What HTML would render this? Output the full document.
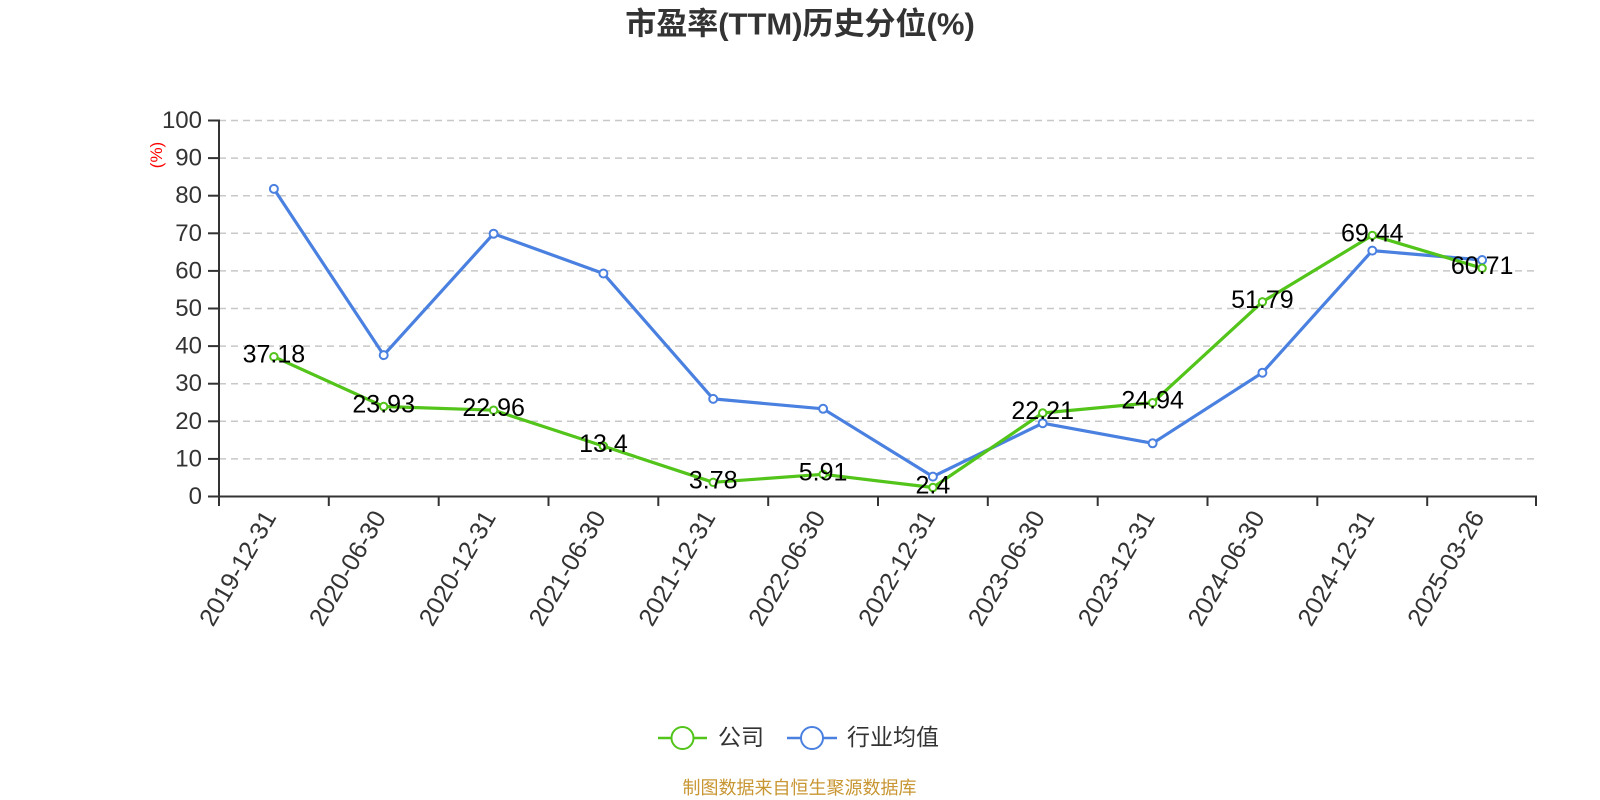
<!DOCTYPE html>
<html>
<head>
<meta charset="utf-8">
<style>
html,body{margin:0;padding:0;background:#fff;}
svg{display:block;}
text{font-family:"Liberation Sans","Noto Sans CJK SC",sans-serif;}
</style>
</head>
<body>
<svg width="1600" height="800" viewBox="0 0 1600 800" xmlns="http://www.w3.org/2000/svg">
<rect width="1600" height="800" fill="#fff"/>
<!-- title -->
<text x="800" y="24" text-anchor="middle" dominant-baseline="central" font-size="31" font-weight="bold" fill="#333">市盈率(TTM)历史分位(%)</text>

<!-- grid lines -->
<g stroke="#c8c8c8" stroke-width="1.5" stroke-dasharray="7,5" fill="none">
<line x1="219" y1="458.9" x2="1537" y2="458.9"/>
<line x1="219" y1="421.3" x2="1537" y2="421.3"/>
<line x1="219" y1="383.7" x2="1537" y2="383.7"/>
<line x1="219" y1="346.1" x2="1537" y2="346.1"/>
<line x1="219" y1="308.5" x2="1537" y2="308.5"/>
<line x1="219" y1="270.9" x2="1537" y2="270.9"/>
<line x1="219" y1="233.3" x2="1537" y2="233.3"/>
<line x1="219" y1="195.7" x2="1537" y2="195.7"/>
<line x1="219" y1="158.1" x2="1537" y2="158.1"/>
<line x1="219" y1="120.5" x2="1537" y2="120.5"/>
</g>

<!-- axes -->
<g stroke="#333" stroke-width="2" fill="none">
<line x1="219" y1="119.5" x2="219" y2="497.5"/>
<line x1="218" y1="496.5" x2="1537" y2="496.5"/>
<line x1="208" y1="496.5" x2="219" y2="496.5"/>
<line x1="208" y1="458.9" x2="219" y2="458.9"/>
<line x1="208" y1="421.3" x2="219" y2="421.3"/>
<line x1="208" y1="383.7" x2="219" y2="383.7"/>
<line x1="208" y1="346.1" x2="219" y2="346.1"/>
<line x1="208" y1="308.5" x2="219" y2="308.5"/>
<line x1="208" y1="270.9" x2="219" y2="270.9"/>
<line x1="208" y1="233.3" x2="219" y2="233.3"/>
<line x1="208" y1="195.7" x2="219" y2="195.7"/>
<line x1="208" y1="158.1" x2="219" y2="158.1"/>
<line x1="208" y1="120.5" x2="219" y2="120.5"/>
<line x1="219" y1="496.5" x2="219" y2="506"/>
<line x1="328.8" y1="496.5" x2="328.8" y2="506"/>
<line x1="438.7" y1="496.5" x2="438.7" y2="506"/>
<line x1="548.5" y1="496.5" x2="548.5" y2="506"/>
<line x1="658.3" y1="496.5" x2="658.3" y2="506"/>
<line x1="768.2" y1="496.5" x2="768.2" y2="506"/>
<line x1="878" y1="496.5" x2="878" y2="506"/>
<line x1="987.8" y1="496.5" x2="987.8" y2="506"/>
<line x1="1097.7" y1="496.5" x2="1097.7" y2="506"/>
<line x1="1207.5" y1="496.5" x2="1207.5" y2="506"/>
<line x1="1317.3" y1="496.5" x2="1317.3" y2="506"/>
<line x1="1427.2" y1="496.5" x2="1427.2" y2="506"/>
<line x1="1536" y1="496.5" x2="1536" y2="506"/>
</g>

<!-- y labels -->
<g font-size="24" fill="#333" text-anchor="end" dominant-baseline="central">
<text x="202" y="496.5">0</text>
<text x="202" y="458.9">10</text>
<text x="202" y="421.3">20</text>
<text x="202" y="383.7">30</text>
<text x="202" y="346.1">40</text>
<text x="202" y="308.5">50</text>
<text x="202" y="270.9">60</text>
<text x="202" y="233.3">70</text>
<text x="202" y="195.7">80</text>
<text x="202" y="158.1">90</text>
<text x="202" y="120.5">100</text>
</g>
<text transform="translate(156.5,155) rotate(-90)" text-anchor="middle" dominant-baseline="central" font-size="17" fill="#f00">(%)</text>

<!-- x labels -->
<g font-size="25" fill="#333" text-anchor="end" dominant-baseline="central">
<text transform="translate(270,513) rotate(-60)">2019-12-31</text>
<text transform="translate(379.8,513) rotate(-60)">2020-06-30</text>
<text transform="translate(489.7,513) rotate(-60)">2020-12-31</text>
<text transform="translate(599.5,513) rotate(-60)">2021-06-30</text>
<text transform="translate(709.3,513) rotate(-60)">2021-12-31</text>
<text transform="translate(819.2,513) rotate(-60)">2022-06-30</text>
<text transform="translate(929,513) rotate(-60)">2022-12-31</text>
<text transform="translate(1038.8,513) rotate(-60)">2023-06-30</text>
<text transform="translate(1148.7,513) rotate(-60)">2023-12-31</text>
<text transform="translate(1258.5,513) rotate(-60)">2024-06-30</text>
<text transform="translate(1368.4,513) rotate(-60)">2024-12-31</text>
<text transform="translate(1478.2,513) rotate(-60)">2025-03-26</text>
</g>

<!-- blue series -->
<polyline fill="none" stroke="#4a80e0" stroke-width="3.2" stroke-linejoin="round"
points="273.9,188.9 383.7,355.1 493.6,233.7 603.4,273.5 713.2,398.9 823.1,408.8 932.9,476.6 1042.7,423.2 1152.6,443.3 1262.4,372.7 1372.3,250.6 1482.1,260.0"/>
<!-- green series -->
<polyline fill="none" stroke="#52c41a" stroke-width="3.2" stroke-linejoin="round"
points="273.9,356.7 383.7,406.5 493.6,410.2 603.4,446.1 713.2,482.3 823.1,474.3 932.9,487.5 1042.7,413.0 1152.6,402.7 1262.4,301.8 1372.3,235.4 1482.1,268.2"/>

<!-- blue markers -->
<g fill="#fff" stroke="#4a80e0" stroke-width="2">
<circle cx="273.9" cy="188.9" r="4"/>
<circle cx="383.7" cy="355.1" r="4"/>
<circle cx="493.6" cy="233.7" r="4"/>
<circle cx="603.4" cy="273.5" r="4"/>
<circle cx="713.2" cy="398.9" r="4"/>
<circle cx="823.1" cy="408.8" r="4"/>
<circle cx="932.9" cy="476.6" r="4"/>
<circle cx="1042.7" cy="423.2" r="4"/>
<circle cx="1152.6" cy="443.3" r="4"/>
<circle cx="1262.4" cy="372.7" r="4"/>
<circle cx="1372.3" cy="250.6" r="4"/>
<circle cx="1482.1" cy="260.0" r="4"/>
</g>
<!-- green markers -->
<g fill="#fff" stroke="#52c41a" stroke-width="2">
<circle cx="273.9" cy="356.7" r="3.7"/>
<circle cx="383.7" cy="406.5" r="3.7"/>
<circle cx="493.6" cy="410.2" r="3.7"/>
<circle cx="603.4" cy="446.1" r="3.7"/>
<circle cx="713.2" cy="482.3" r="3.7"/>
<circle cx="823.1" cy="474.3" r="3.7"/>
<circle cx="932.9" cy="487.5" r="3.7"/>
<circle cx="1042.7" cy="413.0" r="3.7"/>
<circle cx="1152.6" cy="402.7" r="3.7"/>
<circle cx="1262.4" cy="301.8" r="3.7"/>
<circle cx="1372.3" cy="235.4" r="3.7"/>
<circle cx="1482.1" cy="268.2" r="3.7"/>
</g>

<!-- data labels -->
<g font-size="25" fill="#000" text-anchor="middle" dominant-baseline="central">
<text x="273.9" y="354.7">37.18</text>
<text x="383.7" y="404.5">23.93</text>
<text x="493.6" y="408.2">22.96</text>
<text x="603.4" y="444.1">13.4</text>
<text x="713.2" y="480.3">3.78</text>
<text x="823.1" y="472.3">5.91</text>
<text x="932.9" y="485.5">2.4</text>
<text x="1042.7" y="411.0">22.21</text>
<text x="1152.6" y="400.7">24.94</text>
<text x="1262.4" y="299.8">51.79</text>
<text x="1372.3" y="233.4">69.44</text>
<text x="1482.1" y="266.2">60.71</text>
</g>

<!-- legend -->
<line x1="658" y1="738" x2="707" y2="738" stroke="#52c41a" stroke-width="2.5"/>
<circle cx="682.5" cy="738" r="11" fill="#fff" stroke="#52c41a" stroke-width="2"/>
<text x="718" y="737" font-size="23" fill="#333" dominant-baseline="central">公司</text>
<line x1="787" y1="738" x2="837" y2="738" stroke="#4a80e0" stroke-width="2.5"/>
<circle cx="812" cy="738" r="11" fill="#fff" stroke="#4a80e0" stroke-width="2"/>
<text x="847" y="737" font-size="23" fill="#333" dominant-baseline="central">行业均值</text>

<!-- footer -->
<text x="799.5" y="788" text-anchor="middle" dominant-baseline="central" font-size="18" fill="#c89632">制图数据来自恒生聚源数据库</text>
</svg>
</body>
</html>
